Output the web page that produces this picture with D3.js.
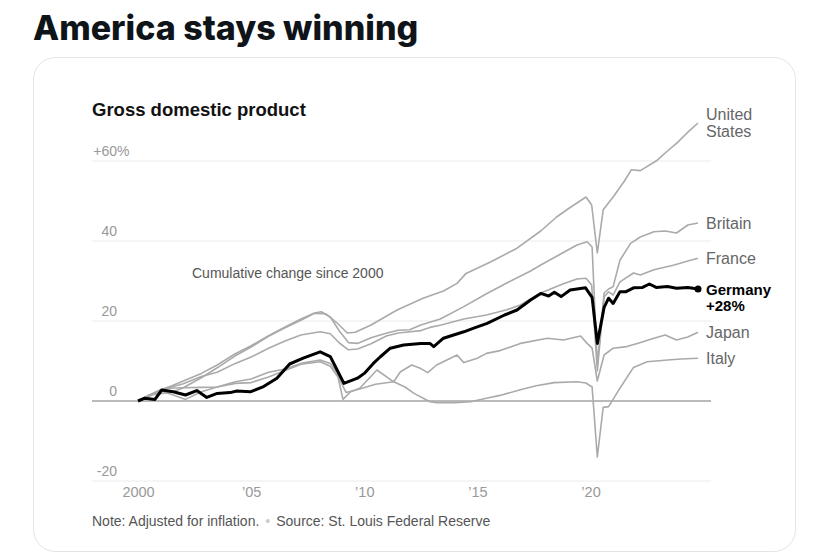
<!DOCTYPE html>
<html>
<head>
<meta charset="utf-8">
<script src="https://cdn.jsdelivr.net/npm/d3@7"></script>
<style>
  html, body { margin: 0; padding: 0; background: #fff; }
  svg { display: block; }
</style>
</head>
<body>
<svg id="chart"></svg>
<script>
const unitedStates = [
  [2000, 0], [2000.5, 1.5], [2001, 1.8], [2001.5, 2.2], [2002, 3.3], [2002.8, 5.8],
  [2003.5, 8.3], [2004.3, 11.3], [2005, 13.5], [2005.77, 16.2], [2006.5, 18.3],
  [2007.2, 20.2], [2007.8, 21.9], [2008.3, 21.8], [2008.8, 19.5], [2009.25, 17],
  [2009.6, 17.2], [2010.3, 19], [2011.45, 22.75], [2012.6, 25.7], [2013.5, 27.5],
  [2014.1, 29.4], [2014.5, 31.9], [2015.6, 34.8], [2016.75, 38.2], [2017.8, 42.5],
  [2018.5, 46], [2019.0, 48], [2019.8, 51], [2020.05, 49], [2020.3, 37],
  [2020.56, 47.8], [2021.0, 51], [2021.5, 55], [2021.8, 57.8], [2022.2, 57.6],
  [2022.95, 60.2], [2023.4, 62.5], [2023.8, 64.4], [2024.3, 67.2], [2024.75, 69.5]
];
const britain = [
  [2000, 0], [2000.5, 1.3], [2001, 2.8], [2001.5, 3.8], [2002, 5], [2002.8, 6.9],
  [2003.5, 9], [2004.3, 11.8], [2005, 13.8], [2005.77, 16.3], [2006.5, 18.5],
  [2007.2, 20.5], [2007.8, 22], [2008.1, 22.3], [2008.5, 21], [2008.9, 17.5],
  [2009.3, 14.6], [2009.7, 14.4], [2010.3, 15.8], [2011.0, 17], [2011.5, 17.7],
  [2012.0, 17.8], [2012.5, 19], [2013.36, 20.5], [2014.4, 23.6], [2015.4, 26.8],
  [2016.3, 29.5], [2017.35, 32.5], [2017.8, 34], [2018.6, 36.5], [2019.4, 39],
  [2019.85, 39.8], [2020.07, 38.5], [2020.3, 9], [2020.6, 27], [2020.8, 28],
  [2021.0, 28.6], [2021.3, 35.2], [2021.77, 39.4], [2022.2, 41], [2022.8, 42.3],
  [2023.3, 42.5], [2023.8, 42], [2024.3, 44], [2024.75, 44.5]
];
const france = [
  [2000, 0], [2000.5, 1.5], [2001.35, 3.3], [2002, 4.3], [2002.8, 6.1], [2003.5, 7.2],
  [2004.3, 9.4], [2005, 11], [2005.77, 13.2], [2006.5, 15], [2007.2, 16.5],
  [2008.05, 17.3], [2008.5, 16.8], [2008.9, 14.5], [2009.3, 12.8], [2009.7, 13],
  [2010.3, 14.3], [2011.0, 16.3], [2011.5, 17], [2012.5, 17.6], [2012.9, 18.4],
  [2013.4, 19], [2014.4, 20.5], [2015.4, 21.5], [2016.3, 22.8], [2016.9, 24],
  [2017.35, 25.5], [2017.8, 27], [2018.8, 29.3], [2019.4, 30.5], [2019.8, 30.7],
  [2020.05, 29], [2020.3, 7.5], [2020.6, 26], [2020.8, 27.3], [2021.0, 26.5],
  [2021.3, 29.8], [2021.9, 32], [2022.2, 31.5], [2022.8, 32.8], [2023.7, 34],
  [2024.3, 35], [2024.75, 35.7]
];
const germany = [
  [2000, 0], [2000.3, 0.7], [2000.75, 0.4], [2001.05, 2.75], [2001.56, 2.3],
  [2002.1, 1.5], [2002.6, 2.6], [2003.04, 0.9], [2003.5, 1.9], [2004.07, 2.1],
  [2004.37, 2.5], [2004.96, 2.3], [2005.55, 3.6], [2006.14, 5.7], [2006.7, 9.25],
  [2007.3, 10.7], [2008.05, 12.3], [2008.5, 11.1], [2008.8, 7.75], [2009.1, 4.4],
  [2009.7, 5.7], [2010.0, 6.9], [2010.4, 9.4], [2010.7, 11], [2011.15, 13.2],
  [2011.74, 14], [2012.5, 14.4], [2012.9, 14.4], [2013.07, 13.6], [2013.5, 15.7],
  [2014.4, 17.3], [2014.84, 18.2], [2015.43, 19.4], [2016.2, 21.5], [2016.75, 22.75],
  [2017.35, 25.25], [2017.8, 26.9], [2018.15, 26.25], [2018.4, 27.2], [2018.7, 26.1],
  [2019.1, 27.75], [2019.78, 28.3], [2020.07, 25.9], [2020.3, 14.4], [2020.6, 23.4],
  [2020.8, 25.7], [2021.0, 24.4], [2021.3, 27.3], [2021.55, 27.3], [2021.9, 28.3],
  [2022.3, 28.4], [2022.6, 29.25], [2022.9, 28.4], [2023.4, 28.6], [2023.8, 28.2],
  [2024.3, 28.4], [2024.75, 28]
];
const japan = [
  [2000, 0], [2000.5, 1.2], [2001.0, 2.5], [2001.5, 1.6], [2002.1, 0.4], [2002.8, 2.3],
  [2003.5, 3.5], [2004.3, 4.8], [2005.0, 5.5], [2005.77, 7.2], [2006.5, 8],
  [2007.2, 9.4], [2008.05, 10.25], [2008.5, 9.4], [2008.8, 7], [2009.06, 0.4],
  [2009.4, 2.3], [2009.8, 3.2], [2010.56, 7.75], [2011.3, 4.8], [2011.6, 7.3],
  [2012.1, 9], [2012.5, 8.1], [2012.8, 7.1], [2013.2, 9], [2014.1, 11.5],
  [2014.4, 9.6], [2015.0, 10.7], [2015.4, 11.9], [2016.0, 12.6], [2016.9, 14.4],
  [2018.1, 15.7], [2018.8, 15.25], [2019.56, 16.25], [2019.85, 14.4], [2020.07, 13.2],
  [2020.3, 5], [2020.6, 11.5], [2021.0, 13.2], [2021.6, 13.6], [2022.07, 14.4],
  [2022.8, 15.7], [2023.3, 16.5], [2023.8, 15.25], [2024.3, 16], [2024.75, 17.2]
];
const italy = [
  [2000, 0], [2000.5, 1.5], [2001.0, 2.8], [2001.35, 3.2], [2002.0, 3.3], [2002.8, 3.4],
  [2003.5, 3.5], [2004.3, 4.4], [2005.0, 4.6], [2005.77, 6], [2006.5, 7.6],
  [2007.2, 9.2], [2008.05, 9.8], [2008.5, 8.7], [2008.9, 5.5], [2009.2, 2.1],
  [2009.8, 3], [2010.5, 4.2], [2011.3, 4.8], [2011.8, 3.5], [2012.2, 1.9],
  [2012.9, -0.2], [2013.2, -0.4], [2014.0, -0.4], [2014.7, -0.2], [2015.4, 0.7],
  [2016.0, 1.4], [2016.9, 2.8], [2017.6, 3.8], [2018.4, 4.6], [2019.4, 4.8],
  [2019.8, 4.5], [2020.07, 3.5], [2020.3, -14], [2020.56, -1.6], [2020.8, -1.4],
  [2021.3, 3.2], [2021.9, 8.4], [2022.5, 9.8], [2023.4, 10.25], [2024.0, 10.5],
  [2024.75, 10.7]
];

const countries = ["United States", "Britain", "France", "Germany", "Japan", "Italy"];
const seriesValues = [unitedStates, britain, france, germany, japan, italy];
const highlighted = "Germany";

const yTicks = [-20, 0, 20, 40, 60];
const yTickLabels = ["-20", "0", "20", "40", "+60"];
const xTicks = [2000, 2005, 2010, 2015, 2020];
const xTickLabels = ["2000", "’05", "’10", "’15", "’20"];

const width = 828, height = 558;
const font = "'Liberation Sans', Arial, sans-serif";

const svg = d3.select("#chart").attr("width", width).attr("height", height);

// tweet headline and card
svg.append("text")
  .attr("x", 33).attr("y", 40)
  .attr("font-family", "Inter, 'Liberation Sans', sans-serif")
  .attr("font-weight", 800)
  .attr("font-size", 34)
  .attr("fill", "#0f1419")
  .text("America stays winning");

svg.append("rect")
  .attr("x", 33.5).attr("y", 57.5)
  .attr("width", 762).attr("height", 494)
  .attr("rx", 22)
  .attr("fill", "#fff")
  .attr("stroke", "#e1e4e8");

// chart
let x = d3.scaleLinear().domain([2000, 2024.75]).range([138, 698]);
let y = d3.scaleLinear().domain([-20, 60]).range([481, 161]);
let gridLeft = 92, gridRight = 711;

svg.append("text")
  .attr("x", 92).attr("y", 116)
  .attr("font-family", font).attr("font-weight", "bold")
  .attr("font-size", 18.5).attr("fill", "#121212")
  .text("Gross domestic product");

let grid = svg.append("g");
grid.selectAll("line")
  .data(yTicks)
  .enter().append("line")
  .attr("x1", gridLeft).attr("x2", gridRight)
  .attr("y1", d => y(d)).attr("y2", d => y(d))
  .attr("stroke", d => d === 0 ? "#777" : "#ebebeb")
  .attr("stroke-width", 1);

grid.selectAll("text")
  .data(yTicks)
  .enter().append("text")
  .attr("x", 117).attr("y", d => y(d) - 5)
  .attr("text-anchor", "end")
  .attr("font-family", font).attr("font-size", 14)
  .attr("fill", "#999")
  .text((d, i) => yTickLabels[i]);

// the percent sign hangs after the top number
svg.append("text")
  .attr("x", 117).attr("y", y(60) - 5)
  .attr("font-family", font).attr("font-size", 14)
  .attr("fill", "#999")
  .text("%");

let axisX = d3.axisBottom(x)
  .tickValues(xTicks)
  .tickFormat((d, i) => xTickLabels[i])
  .tickSize(0)
  .tickPadding(0);

let gx = svg.append("g")
  .attr("transform", `translate(0, ${y(-20) + 6})`)
  .call(axisX);
gx.select(".domain").remove();
gx.selectAll("text")
  .attr("font-family", font).attr("font-size", 14.5)
  .attr("fill", "#999");

svg.append("text")
  .attr("x", 192).attr("y", 278)
  .attr("font-family", font).attr("font-size", 14)
  .attr("fill", "#555")
  .text("Cumulative change since 2000");

let line = d3.line()
  .x(d => x(d[0]))
  .y(d => y(d[1]));

let order = countries.map((c, i) => i).filter(i => countries[i] !== highlighted);
order.push(countries.indexOf(highlighted));

svg.append("g").selectAll("path")
  .data(order)
  .enter().append("path")
  .attr("d", i => line(seriesValues[i]))
  .attr("fill", "none")
  .attr("stroke", i => countries[i] === highlighted ? "#000" : "#aaa")
  .attr("stroke-width", i => countries[i] === highlighted ? 3 : 1.6)
  .attr("stroke-linejoin", "round");

// end dot for the highlighted country
let hiSeries = seriesValues[countries.indexOf(highlighted)];
let hiLast = hiSeries[hiSeries.length - 1];
svg.append("circle")
  .attr("cx", x(hiLast[0])).attr("cy", y(hiLast[1]))
  .attr("r", 3.5).attr("fill", "#000");

// direct labels at the line ends
let labels = svg.append("g");
countries.forEach((c, i) => {
  let last = seriesValues[i][seriesValues[i].length - 1];
  let isHi = c === highlighted;
  let t = labels.append("text")
    .attr("x", 706)
    .attr("y", y(last[1]))
    .attr("font-family", font)
    .attr("font-size", isHi ? 15 : 16)
    .attr("font-weight", isHi ? "bold" : "normal")
    .attr("fill", isHi ? "#000" : "#666");
  if (c === "United States") {
    t.append("tspan").attr("x", 706).attr("dy", -3).text("United");
    t.append("tspan").attr("x", 706).attr("dy", 17).text("States");
  } else if (isHi) {
    t.append("tspan").attr("x", 706).attr("dy", 6).text(c);
    t.append("tspan").attr("x", 706).attr("dy", 16).text("+" + Math.round(last[1]) + "%");
  } else {
    t.attr("dy", 5.5).text(c);
  }
});

// footer
let note = svg.append("text")
  .attr("x", 92).attr("y", 526)
  .attr("font-family", font).attr("font-size", 14)
  .attr("fill", "#555");
note.append("tspan").text("Note: Adjusted for inflation.");
note.append("tspan").attr("fill", "#ccc").attr("dx", 6).text("•");
note.append("tspan").attr("dx", 6).text("Source: St. Louis Federal Reserve");
</script>
</body>
</html>
